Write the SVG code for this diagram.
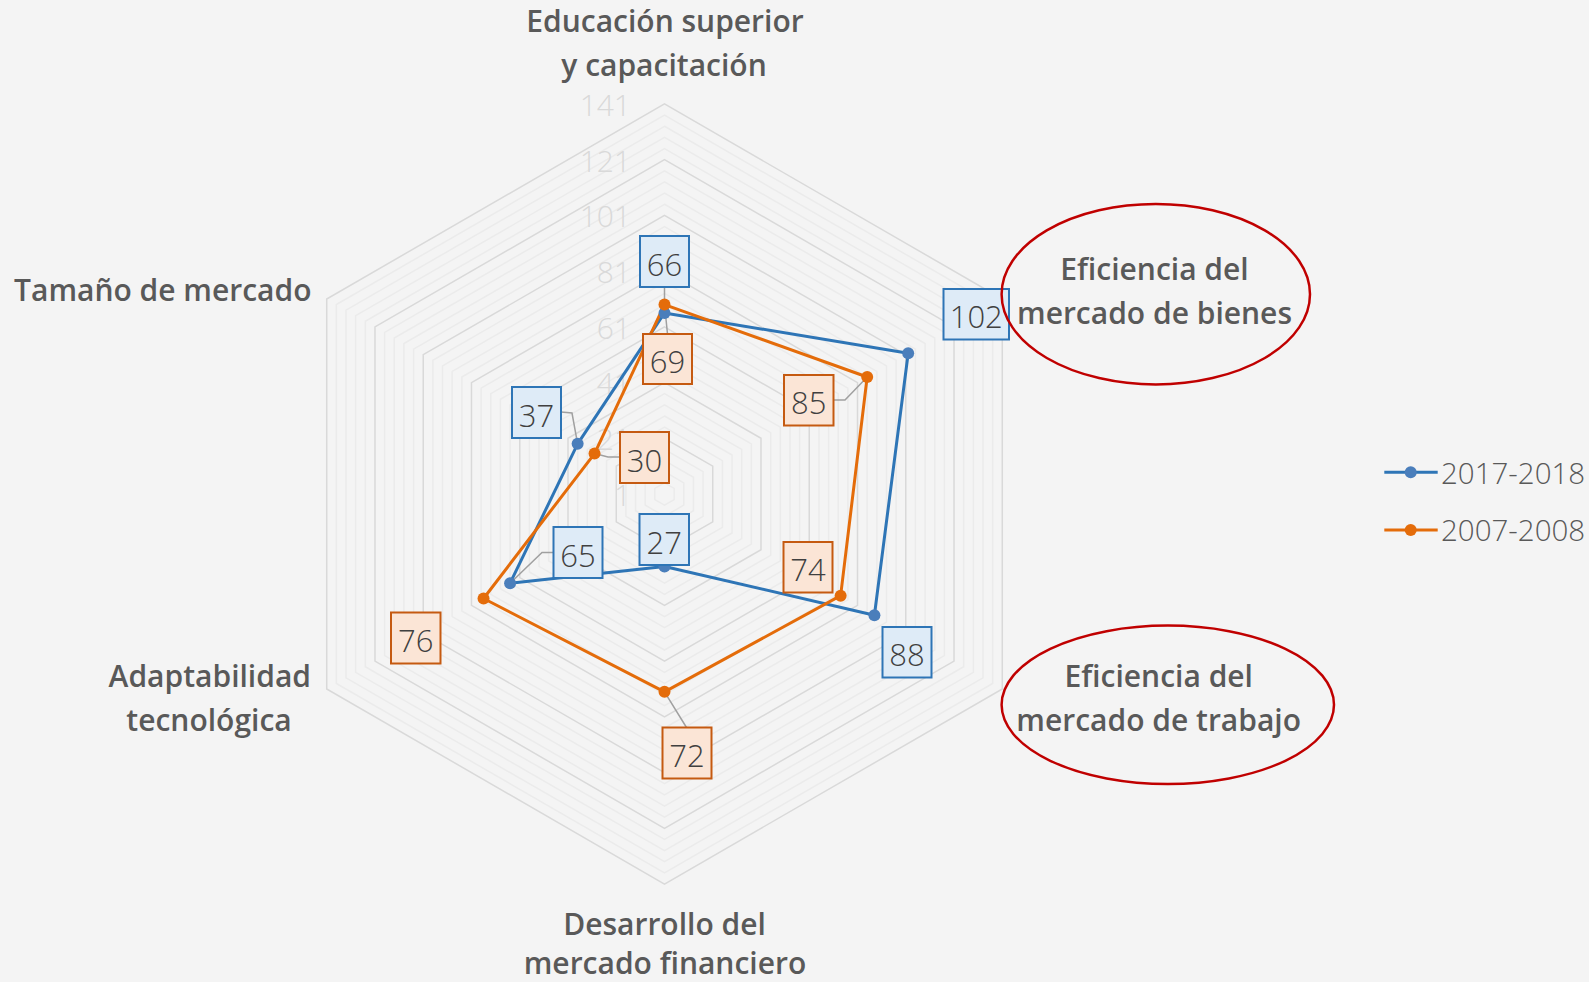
<svg xmlns="http://www.w3.org/2000/svg" xmlns:xlink="http://www.w3.org/1999/xlink" width="1589" height="982" viewBox="0 0 1589 982">
<style>
.bg{fill:#f4f4f4}
.maj{fill:none;stroke:#d9d9d9;stroke-width:1.5}
.min{fill:none;stroke:#ebebeb;stroke-width:1.5}
.tick{font-family:"Open Sans","Liberation Sans",sans-serif;font-weight:300;font-size:30px;fill:#d9d9d9;text-anchor:end}
.cat{font-family:"Open Sans","Liberation Sans",sans-serif;font-weight:600;font-size:30px;fill:#595959;text-anchor:middle}
.sb{fill:none;stroke:#2e75b6;stroke-width:3;stroke-linejoin:round}
.so{fill:none;stroke:#e46c0a;stroke-width:3;stroke-linejoin:round}
.mb{fill:#4a7ebb}
.mo{fill:#e46c0a}
.lead{fill:none;stroke:#a0a0a0;stroke-width:1.5}
.bb{fill:#deebf7;stroke:#2e75b6;stroke-width:2}
.bo{fill:#fbe5d6;stroke:#c55a11;stroke-width:2}
.dl{font-family:"Open Sans","Liberation Sans",sans-serif;font-weight:300;font-size:31px;fill:#404040;text-anchor:middle}
.leg{font-family:"Open Sans","Liberation Sans",sans-serif;font-weight:300;font-size:29.5px;fill:#595959}
.ell{fill:none;stroke:#c00000;stroke-width:2.5}
</style>
<defs>
<polygon id="hex" points="0,-1 0.866025,-0.5 0.866025,0.5 0,1 -0.866025,0.5 -0.866025,-0.5" style="vector-effect:non-scaling-stroke"/>
</defs>
<rect class="bg" x="0" y="0" width="1589" height="982"/>
<g id="grid" transform="translate(664.5 494)">
<g class="min">
<use href="#hex" transform="scale(11.144)"/><use href="#hex" transform="scale(22.288)"/><use href="#hex" transform="scale(33.432)"/><use href="#hex" transform="scale(44.576)"/>
<use href="#hex" transform="scale(66.864)"/><use href="#hex" transform="scale(78.008)"/><use href="#hex" transform="scale(89.152)"/><use href="#hex" transform="scale(100.296)"/>
<use href="#hex" transform="scale(122.584)"/><use href="#hex" transform="scale(133.728)"/><use href="#hex" transform="scale(144.872)"/><use href="#hex" transform="scale(156.016)"/>
<use href="#hex" transform="scale(178.304)"/><use href="#hex" transform="scale(189.448)"/><use href="#hex" transform="scale(200.592)"/><use href="#hex" transform="scale(211.736)"/>
<use href="#hex" transform="scale(234.024)"/><use href="#hex" transform="scale(245.168)"/><use href="#hex" transform="scale(256.312)"/><use href="#hex" transform="scale(267.456)"/>
<use href="#hex" transform="scale(289.744)"/><use href="#hex" transform="scale(300.888)"/><use href="#hex" transform="scale(312.032)"/><use href="#hex" transform="scale(323.176)"/>
<use href="#hex" transform="scale(345.464)"/><use href="#hex" transform="scale(356.608)"/><use href="#hex" transform="scale(367.752)"/><use href="#hex" transform="scale(378.896)"/>
</g>
<g class="maj">
<use href="#hex" transform="scale(55.72)"/><use href="#hex" transform="scale(111.44)"/><use href="#hex" transform="scale(167.16)"/><use href="#hex" transform="scale(222.88)"/>
<use href="#hex" transform="scale(278.6)"/><use href="#hex" transform="scale(334.32)"/><use href="#hex" transform="scale(390.04)"/>
</g>
</g>
<g id="ticks">
<text class="tick" x="631" y="116">141</text>
<text class="tick" x="631" y="172">121</text>
<text class="tick" x="631" y="227">101</text>
<text class="tick" x="631" y="283">81</text>
<text class="tick" x="631" y="339">61</text>
<text class="tick" x="631" y="394">41</text>
<text class="tick" x="631" y="450">21</text>
<text class="tick" x="631" y="506">1</text>
</g>
<g id="connectors">
<polygon class="sb" points="664.5,312.91 908.19,353.31 874.41,615.19 664.5,566.44 510.09,583.15 577.64,443.85"/>
<polygon class="so" points="664.5,304.55 867.17,376.99 840.63,595.69 664.5,691.81 483.55,598.48 594.53,453.6"/>
<path class="lead" d="M664.5,287 L664.5,312.9 M667.5,334 L664.5,304.5 M561,412 L572,413 L577.6,443.8 M620,457 L608,457 L594.5,453.6 M553.5,552.5 L542,552.5 L510.1,583.2 M686.5,727.5 L664.5,691.8 M833.5,400 L845,400 L867.2,377"/>
</g>
<g id="markers">
<circle class="mb" cx="664.5" cy="312.91" r="6"/><circle class="mb" cx="908.19" cy="353.31" r="6"/><circle class="mb" cx="874.41" cy="615.19" r="6"/><circle class="mb" cx="664.5" cy="566.44" r="6"/><circle class="mb" cx="510.09" cy="583.15" r="6"/><circle class="mb" cx="577.64" cy="443.85" r="6"/>
<circle class="mo" cx="664.5" cy="304.55" r="6"/><circle class="mo" cx="867.17" cy="376.99" r="6"/><circle class="mo" cx="840.63" cy="595.69" r="6"/><circle class="mo" cx="664.5" cy="691.81" r="6"/><circle class="mo" cx="483.55" cy="598.48" r="6"/><circle class="mo" cx="594.53" cy="453.6" r="6"/>
</g>
<g id="label-b66"><rect class="bb" x="640" y="236" width="49" height="51"/><text class="dl" x="664.5" y="275.5">66</text></g>
<g id="label-o69"><rect class="bo" x="643" y="334" width="49" height="50"/><text class="dl" x="667.5" y="373">69</text></g>
<g id="label-b37"><rect class="bb" x="512" y="387" width="49" height="51"/><text class="dl" x="536.5" y="426.5">37</text></g>
<g id="label-o30"><rect class="bo" x="620" y="432" width="49" height="51"/><text class="dl" x="644.5" y="471.5">30</text></g>
<g id="label-b65"><rect class="bb" x="553.5" y="527" width="49" height="51"/><text class="dl" x="578" y="566.5">65</text></g>
<g id="label-b27"><rect class="bb" x="639.5" y="514" width="49.5" height="51"/><text class="dl" x="664.25" y="553.5">27</text></g>
<g id="label-o76"><rect class="bo" x="391" y="612.5" width="49.5" height="51"/><text class="dl" x="415.75" y="652">76</text></g>
<g id="label-o72"><rect class="bo" x="662.5" y="727.5" width="49" height="51"/><text class="dl" x="687" y="767">72</text></g>
<g id="label-o85"><rect class="bo" x="784" y="375" width="49.5" height="50.5"/><text class="dl" x="808.75" y="414">85</text></g>
<g id="label-o74"><rect class="bo" x="783.5" y="542" width="49" height="50.5"/><text class="dl" x="808" y="581">74</text></g>
<g id="label-b102"><rect class="bb" x="943.5" y="289" width="65.5" height="50.5"/><text class="dl" x="976.25" y="328">102</text></g>
<g id="label-b88"><rect class="bb" x="882.5" y="627" width="49" height="50.5"/><text class="dl" x="907" y="666">88</text></g>
<g id="cat-educacion"><text class="cat" x="665" y="32">Educación superior</text><text class="cat" x="664" y="75.5">y capacitación</text></g>
<g id="cat-bienes"><text class="cat" x="1154.5" y="280">Eficiencia del</text><text class="cat" x="1154.5" y="324">mercado de bienes</text></g>
<g id="cat-trabajo"><text class="cat" x="1158.8" y="687">Eficiencia del</text><text class="cat" x="1158.7" y="731">mercado de trabajo</text></g>
<g id="cat-financiero"><text class="cat" x="664.5" y="935">Desarrollo del</text><text class="cat" x="665" y="974">mercado financiero</text></g>
<g id="cat-adaptabilidad"><text class="cat" x="209.8" y="687">Adaptabilidad</text><text class="cat" x="209" y="731">tecnológica</text></g>
<g id="cat-tamano"><text class="cat" x="311.5" y="301" style="text-anchor:end">Tamaño de mercado</text></g>
<g id="highlight-bienes"><ellipse class="ell" cx="1155.8" cy="294.2" rx="154.2" ry="90.2"/></g>
<g id="highlight-trabajo"><ellipse class="ell" cx="1167.8" cy="704.8" rx="166.2" ry="79.2"/></g>
<g id="legend">
<line class="sb" x1="1384.3" y1="472.3" x2="1437.7" y2="472.3"/><circle class="mb" cx="1410.7" cy="472.3" r="6"/>
<text class="leg" x="1441" y="483.5">2017-2018</text>
<line class="so" x1="1384.3" y1="530" x2="1437.7" y2="530"/><circle class="mo" cx="1410.7" cy="530" r="6"/>
<text class="leg" x="1441" y="541">2007-2008</text>
</g>
</svg>
